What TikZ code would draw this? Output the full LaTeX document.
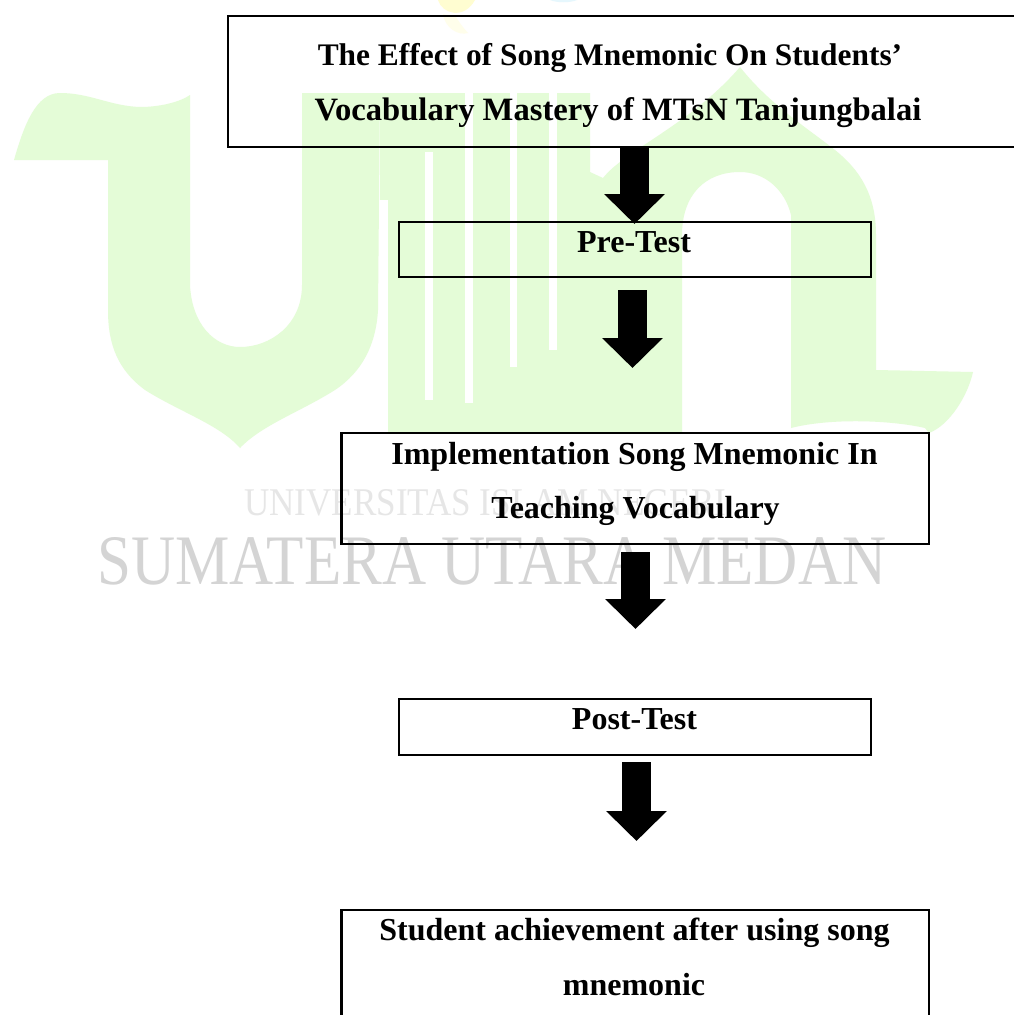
\documentclass[tikz,border=0pt]{standalone}
\usepackage{fontspec}
\setmainfont{Liberation Serif}
\usetikzlibrary{arrows.meta}
\definecolor{wgreen}{HTML}{E4FCD7}
\definecolor{wgray}{HTML}{D4D4D4}
\definecolor{wgraylight}{HTML}{E6E6E6}
\tikzset{
  flowbox/.style={draw=black,line width=2.2pt,inner sep=0pt,outer sep=0pt,anchor=north west},
  boxtext/.style={inner sep=0pt,anchor=base,font=\fontsize{32}{32}\selectfont\bfseries},
  blockarrow/.style={line width=29pt,draw=black,-{Triangle[length=30pt,width=59pt]}},
  slit/.style={fill=white,draw=none}
}
\begin{document}
\begin{tikzpicture}[x=1pt,y=-1pt]
\useasboundingbox (0,0) rectangle (1014,1015);
\clip (0,0) rectangle (1014,1015);
\fill[white] (0,0) rectangle (1014,1015);
% watermark: colour blobs at the top
\fill[yellow!18] (438,0) .. controls (442,14) and (464,20) .. (475,0) -- cycle;
\fill[yellow!8] (443,14) .. controls (445,28) and (458,36) .. (468,33) .. controls (460,24) and (458,20) .. (456,17) -- cycle;
\fill[cyan!10] (550,0) .. controls (557,3) and (570,3) .. (577,0) -- cycle;
% watermark: letter U
\fill[wgreen] (14,160) .. controls (24,125) and (36,93) .. (60,93)
  .. controls (90,93) and (110,106) .. (140,107)
  .. controls (160,107) and (180,102) .. (190,95)
  -- (190,285) .. controls (192,325) and (215,347) .. (240,347)
  .. controls (270,347) and (302,325) .. (302,285)
  -- (302,93) -- (380,93) -- (378,310)
  .. controls (376,345) and (362,372) .. (335,390)
  .. controls (300,412) and (262,425) .. (240,448)
  .. controls (220,425) and (180,412) .. (145,390)
  .. controls (118,370) and (108,345) .. (108,310)
  -- (108,160) -- cycle;
% watermark: middle block, dome and foot
\fill[wgreen] (380,93) -- (590,93) -- (590,172) -- (603,178)
  .. controls (625,150) and (690,125) .. (740,67)
  .. controls (770,105) and (810,130) .. (835,150)
  .. controls (860,170) and (876,195) .. (876,235)
  -- (876,370) -- (973,372)
  .. controls (968,395) and (950,425) .. (929,433)
  -- (925,428) .. controls (890,420) and (830,418) .. (791,428)
  -- (791,215) .. controls (785,190) and (765,172) .. (740,172)
  .. controls (705,172) and (682,195) .. (682,235)
  -- (682,433) -- (388,433) -- (380,433) -- cycle;
\fill[slit] (379,200) rectangle (388,433);
\fill[slit] (425,152) rectangle (433,400);
\fill[slit] (465,85) rectangle (473,403);
\fill[slit] (510,85) rectangle (517,367);
\fill[slit] (549,85) rectangle (557,350);
% watermark: text
\node[inner sep=0pt,anchor=south west,text=wgraylight] (wm1) at (244,516)
  {\resizebox{482pt}{26pt}{UNIVERSITAS ISLAM NEGERI}};
\node[inner sep=0pt,anchor=south west,text=wgray] (wm2) at (97,585)
  {\resizebox{789pt}{47pt}{SUMATERA UTARA MEDAN}};
% boxes
\node[flowbox,minimum width=802pt,minimum height=131pt] (top) at (228,16) {};
\node[flowbox,minimum width=472pt,minimum height=55pt] (pre) at (399,222) {};
\node[flowbox,minimum width=587.5pt,minimum height=111pt] (impl) at (341.5,433) {};
\node[flowbox,minimum width=472pt,minimum height=56pt] (post) at (399,699) {};
\node[flowbox,minimum width=587.5pt,minimum height=130pt] (ach) at (341.5,910) {};
% texts
\node[boxtext,font=\fontsize{31.4}{32}\selectfont\bfseries] (t1) at (610,65) {The Effect of Song Mnemonic On Students’};
\node[boxtext,font=\fontsize{32.6}{33}\selectfont\bfseries] (t2) at (618,120) {Vocabulary Mastery of MTsN Tanjungbalai};
\node[boxtext] (t3) at (634,252) {Pre-Test};
\node[boxtext] (t4) at (634.5,464) {Implementation Song Mnemonic In};
\node[boxtext] (t5) at (635.5,518) {Teaching Vocabulary};
\node[boxtext] (t6) at (634.5,729) {Post-Test};
\node[boxtext] (t7) at (634.5,940) {Student achievement after using song};
\node[boxtext] (t8) at (634,995) {mnemonic};
% connectors
\coordinate (a1s) at (634.5,147);
\coordinate (a1e) at (634.5,224);
\coordinate (a2s) at (632.5,290);
\coordinate (a2e) at (632.5,368);
\coordinate (a3s) at (635.5,552);
\coordinate (a3e) at (635.5,629);
\coordinate (a4s) at (636.5,762);
\coordinate (a4e) at (636.5,841);
\draw[blockarrow] (a1s) -- (a1e);
\draw[blockarrow] (a2s) -- (a2e);
\draw[blockarrow] (a3s) -- (a3e);
\draw[blockarrow] (a4s) -- (a4e);
\end{tikzpicture}
\end{document}
